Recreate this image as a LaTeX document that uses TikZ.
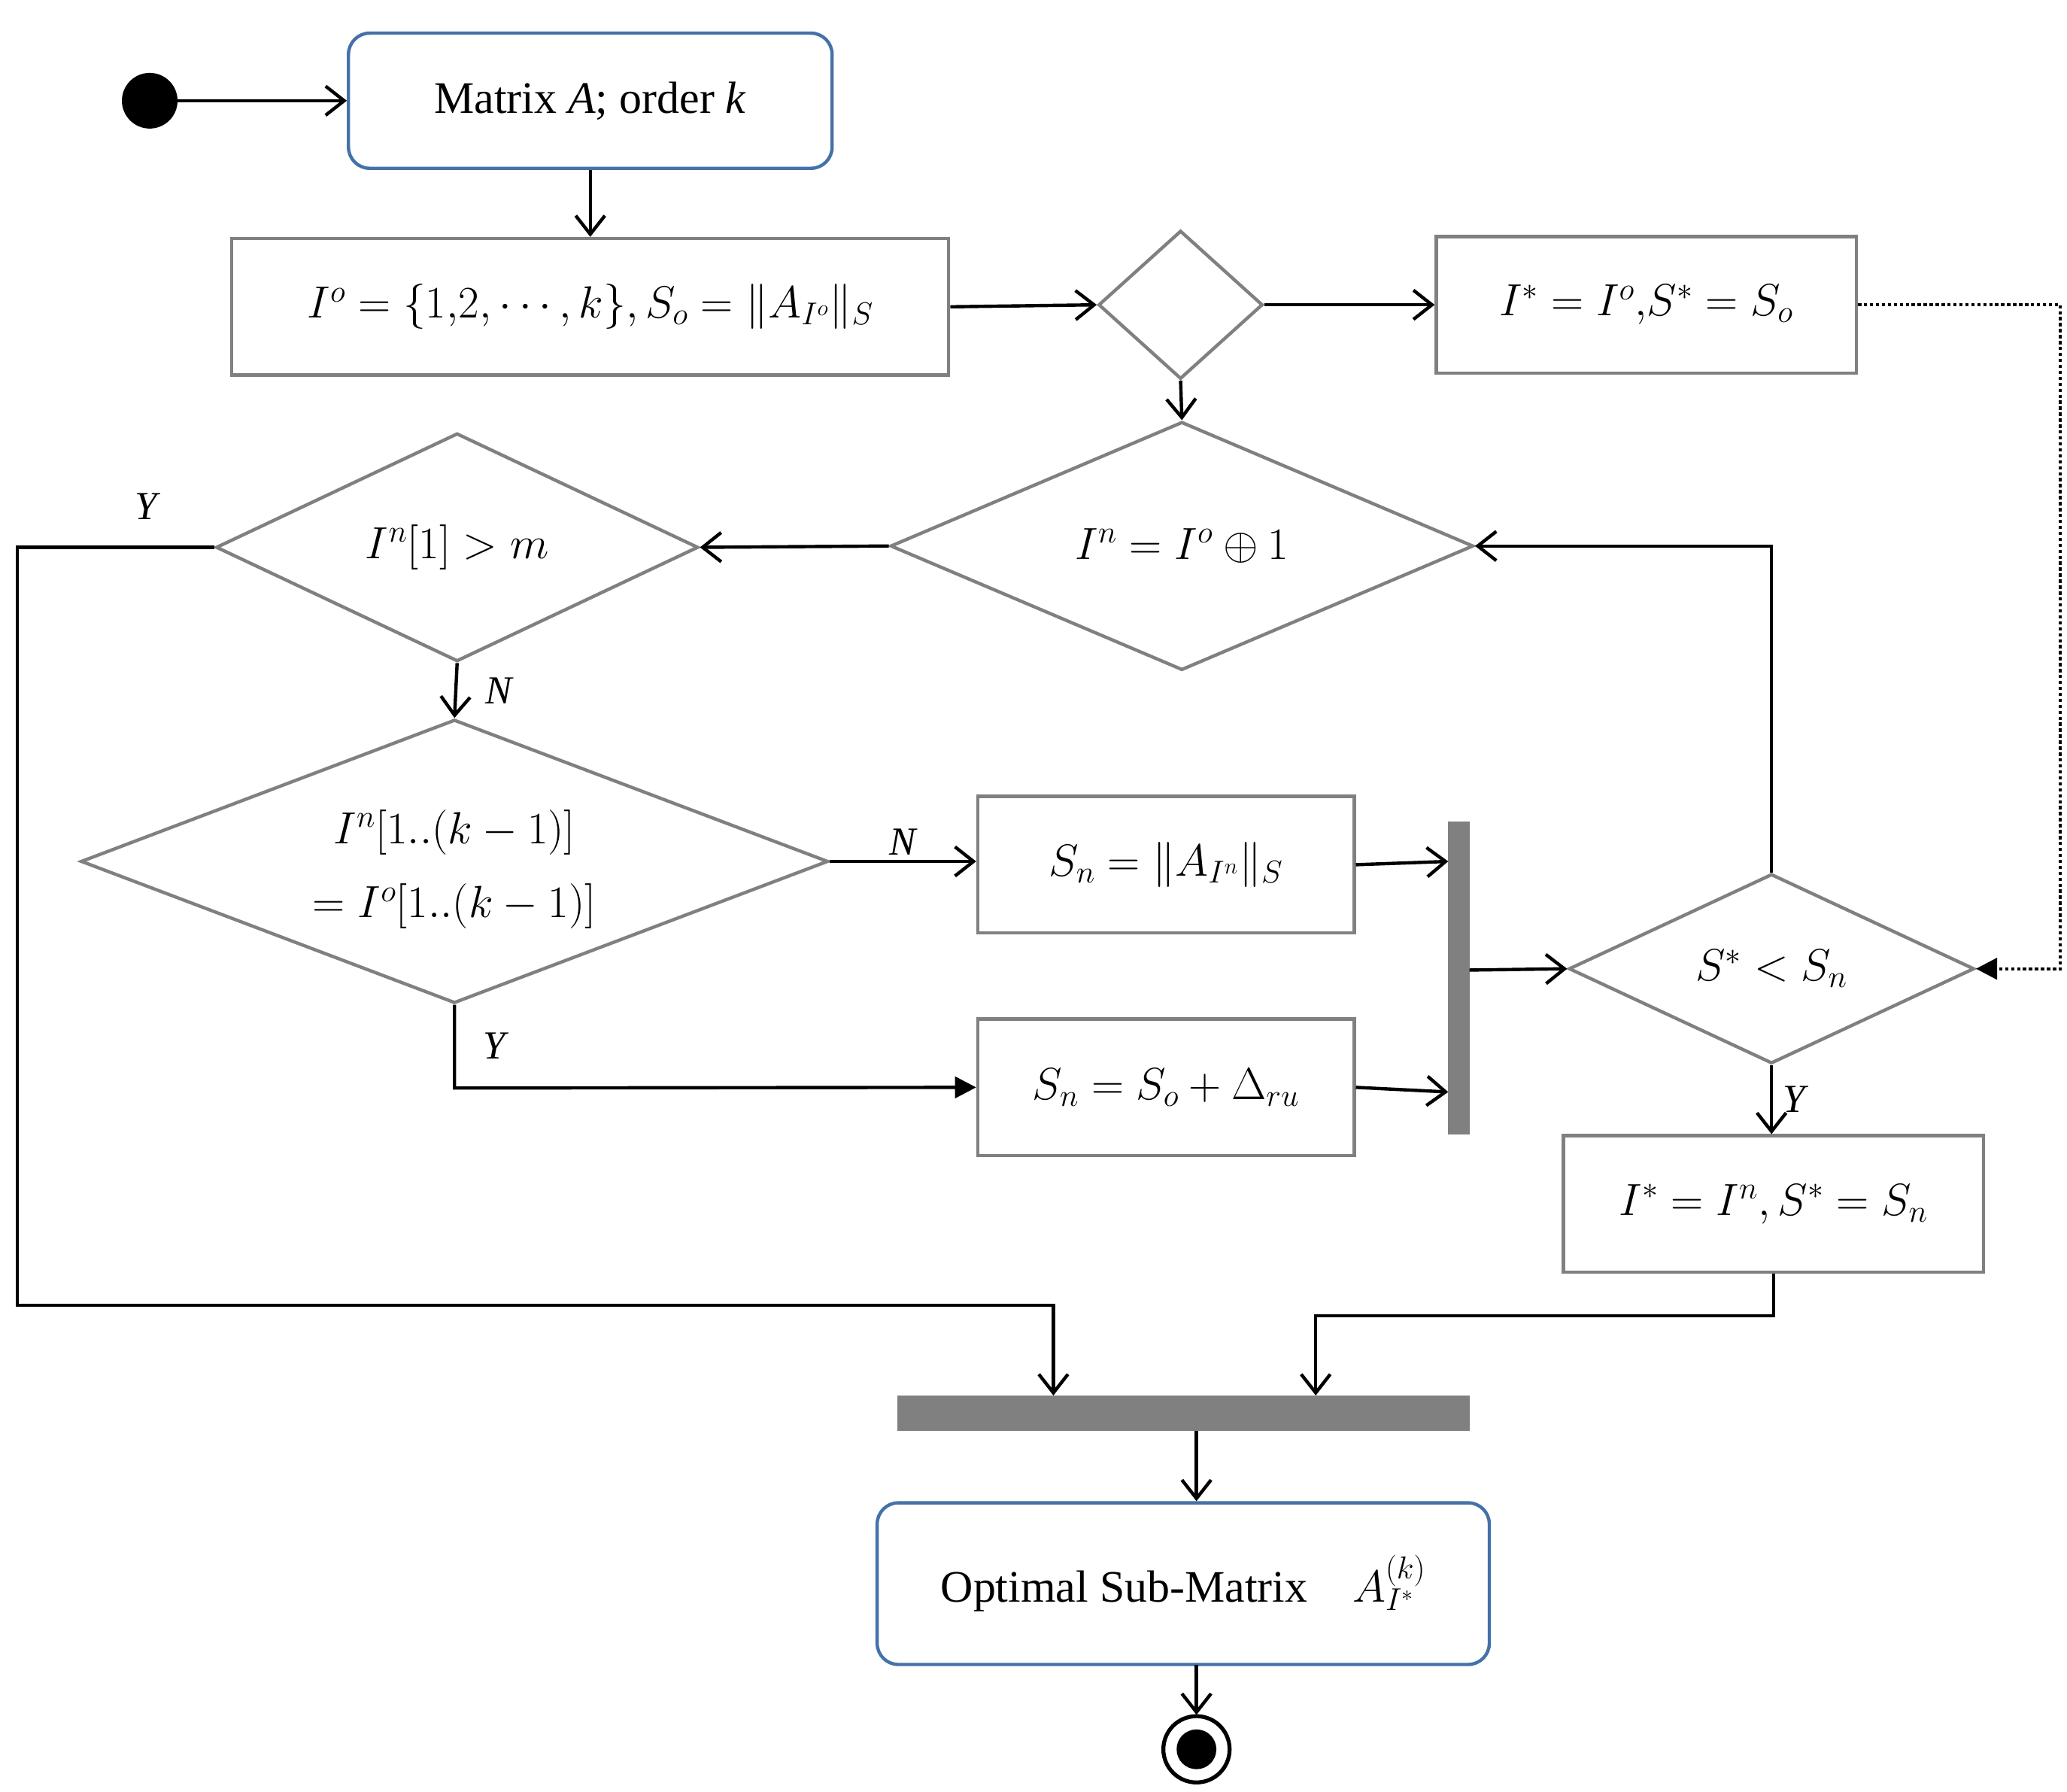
\RequirePackage{fix-cm}
\documentclass[tikz,border=0pt]{standalone}
\usepackage{fontspec}
\setmainfont{Liberation Serif}
\usetikzlibrary{arrows.meta,shapes.geometric}
\definecolor{bx}{RGB}{128,128,128}
\definecolor{bl}{RGB}{68,114,168}
\begin{document}
\begin{tikzpicture}[x=1pt,y=-1pt,
  every node/.style={font=\fontsize{34}{40}\selectfont},
  box/.style={draw=bx,line width=2.5pt,minimum height=103pt,inner sep=0pt},
  rbox/.style={draw=bl,line width=2.5pt,rounded corners=16pt,inner sep=0pt},
  dia/.style={draw=bx,line width=2.5pt,diamond,inner sep=0pt},
  ln/.style={line width=2.5pt},
  ar/.style={ln,-{Straight Barb[length=14pt,width=22pt,line width=2.5pt]}},
  fa/.style={ln,-{Triangle[length=16pt,width=16pt]}},
  lab/.style={font=\fontsize{30}{36}\selectfont\itshape}]
\useasboundingbox (0,0) rectangle (1560,1352);
\fill[black] (113,76) circle (21) coordinate (st);
\node[rbox,minimum width=365pt,minimum height=102pt] (b1) at (445.5,76) {Matrix \textit{A}; order \textit{k}};
\node[box,minimum width=541pt] (b2) at (445.5,231.5) {$I^o=\{1{,}2,\cdots,k\},S_o=\|A_{I^o}\|_S$};
\node[dia,minimum width=124pt,minimum height=112pt] (d1) at (891,230) {};
\node[box,minimum width=317pt] (b3) at (1242.5,230) {$I^*=I^o{,}S^*=S_o$};
\node[dia,minimum width=440pt,minimum height=148pt] (d2) at (892,412) {$I^n=I^o\oplus 1$};
\node[dia,minimum width=364pt,minimum height=146pt] (d3) at (345,413) {$I^n[1]>m$};
\node[dia,minimum width=564pt,minimum height=214pt] (d4) at (343,650) {};
\node at (343,628) {$I^n[1..(k-1)]$};
\node at (343,684) {$=I^o[1..(k-1)]$};
\node[box,minimum width=284pt] (b4) at (880,652.5) {$S_n=\|A_{I^n}\|_S$};
\node[box,minimum width=284pt] (b5) at (880,820.5) {$S_n=S_o+\Delta_{ru}$};
\fill[bx] (1093,620) rectangle (1109,856);
\coordinate (vb) at (1109,732);
\node[dia,minimum width=306pt,minimum height=138pt] (d5) at (1337,731) {$S^*<S_n$};
\node[box,minimum width=317pt] (b6) at (1338.5,908.5) {$I^*=I^n,S^*=S_n$};
\fill[bx] (677,1053) rectangle (1109,1080);
\node[rbox,minimum width=462pt,minimum height=122pt] (b7) at (893,1195) {Optimal Sub-Matrix\quad$A_{I^*}^{(k)}$};
\draw[line width=3pt] (903,1320) circle (25);
\fill (903,1320) circle (15);
\coordinate (en) at (903,1294);
% connectors
\draw[ar] (st) -- (b1.west);
\draw[ar] (b1.south) -- (b2.north);
\draw[ar] (b2.east) -- (d1.west);
\draw[ar] (d1.east) -- (b3.west);
\draw[ar] (d1.south) -- (d2.north);
\draw[ar] (d2.west) -- (d3.east);
\draw[ar] (d3.south) -- (d4.north) node[lab,midway,right=18pt] {N};
\draw[ar] (d3.west) -- (13,413) -- (13,985) -- (795,985) -- (795,1053);
\node[lab] at (110,382) {Y};
\draw[ar] (d4.east) -- (b4.west |- d4.east) node[lab,midway,above] {N};
\draw[fa] (d4.south) -- (343,821) -- (b5.west);
\node[lab] at (373,789) {Y};
\draw[ar] (b4.east) -- (1093,650);
\draw[ar] (b5.east) -- (1093,824);
\draw[ar] (vb) -- (d5.west);
\draw[ar] (d5.north) -- (1337,412) -- (d2.east);
\draw[ar] (d5.south) -- (d5.south |- b6.north) node[lab,midway,right=4pt] {Y};
\draw[ar] (b6.south) -- (1338.5,993) -- (993,993) -- (993,1053);
\draw[ar] (903,1080) -- (b7.north -| 903,0);
\draw[ar] (903,1256) -- (en);
\draw[ln,dotted,-{Triangle[length=16pt,width=16pt]}] (b3.east) -- (1555,230) -- (1555,731) -- (d5.east);
\end{tikzpicture}
\end{document}
